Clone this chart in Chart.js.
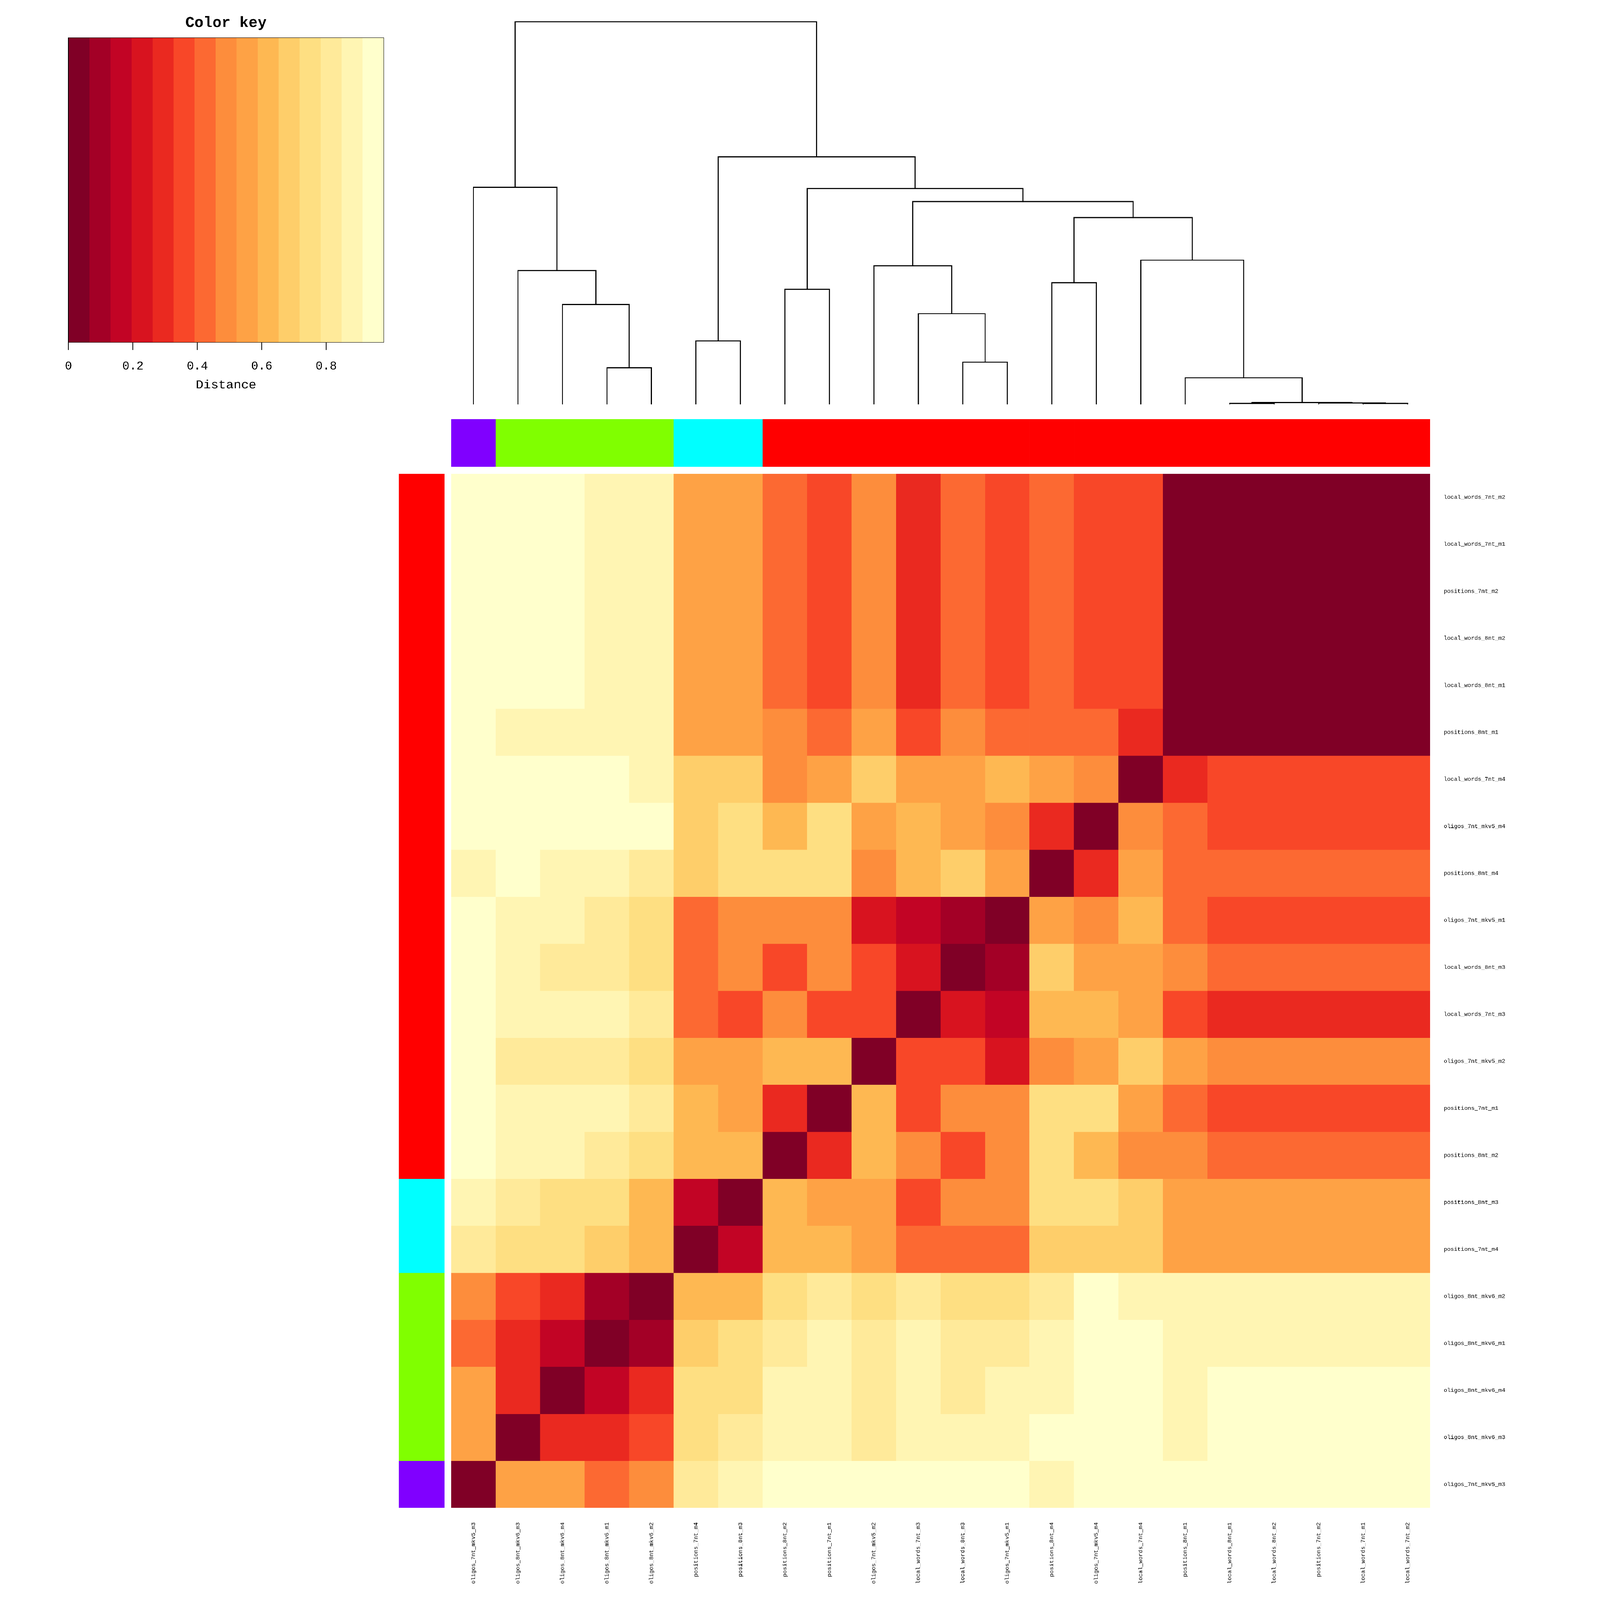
<!DOCTYPE html>
<html>
<head>
<meta charset="utf-8">
<script src="https://cdn.jsdelivr.net/npm/chart.js@4.4.1/dist/chart.umd.min.js"></script>
<style>
  html, body { margin: 0; padding: 0; background: #fff; overflow: hidden; }
  #page { position: absolute; left: 0; top: 0; width: 7500px; height: 7875px; background: #fff; transform-origin: 0 0; }
  canvas { position: absolute; }
</style>
</head>
<body>
<div id="page">
<canvas id="keyChart"></canvas>
<canvas id="treeChart"></canvas>
<canvas id="colBarChart"></canvas>
<canvas id="rowBarChart"></canvas>
<canvas id="heatChart"></canvas>
</div>
<script>
'use strict';

// column order (left to right), same as the dendrogram leaves
const colNames = ['oligos_7nt_mkv5_m3', 'oligos_8nt_mkv6_m3', 'oligos_8nt_mkv6_m4', 'oligos_8nt_mkv6_m1',
  'oligos_8nt_mkv6_m2', 'positions_7nt_m4', 'positions_8nt_m3', 'positions_8nt_m2', 'positions_7nt_m1',
  'oligos_7nt_mkv5_m2', 'local_words_7nt_m3', 'local_words_8nt_m3', 'oligos_7nt_mkv5_m1', 'positions_8nt_m4',
  'oligos_7nt_mkv5_m4', 'local_words_7nt_m4', 'positions_8nt_m1', 'local_words_8nt_m1', 'local_words_8nt_m2',
  'positions_7nt_m2', 'local_words_7nt_m1', 'local_words_7nt_m2'];

// row order (top to bottom)
const rowNames = ['local_words_7nt_m2', 'local_words_7nt_m1', 'positions_7nt_m2', 'local_words_8nt_m2',
  'local_words_8nt_m1', 'positions_8nt_m1', 'local_words_7nt_m4', 'oligos_7nt_mkv5_m4', 'positions_8nt_m4',
  'oligos_7nt_mkv5_m1', 'local_words_8nt_m3', 'local_words_7nt_m3', 'oligos_7nt_mkv5_m2', 'positions_7nt_m1',
  'positions_8nt_m2', 'positions_8nt_m3', 'positions_7nt_m4', 'oligos_8nt_mkv6_m2', 'oligos_8nt_mkv6_m1',
  'oligos_8nt_mkv6_m4', 'oligos_8nt_mkv6_m3', 'oligos_7nt_mkv5_m3'];

const colGroup = ['purple', 'green', 'green', 'green', 'green', 'cyan', 'cyan', 'red', 'red', 'red', 'red',
  'red', 'red', 'red', 'red', 'red', 'red', 'red', 'red', 'red', 'red', 'red'];
const rowGroup = ['red', 'red', 'red', 'red', 'red', 'red', 'red', 'red', 'red', 'red', 'red', 'red', 'red',
  'red', 'red', 'cyan', 'cyan', 'green', 'green', 'green', 'green', 'purple'];

// distances, one row per rowNames entry, columns in colNames order
const distRows = [
  [.94, .94, .94, .88, .88, .55, .55, .42, .36, .49, .29, .42, .36, .42, .36, .36, .05, 0, 0, 0, 0, 0],
  [.94, .94, .94, .88, .88, .55, .55, .42, .36, .49, .29, .42, .36, .42, .36, .36, .05, 0, 0, 0, 0, 0],
  [.94, .94, .94, .88, .88, .55, .55, .42, .36, .49, .29, .42, .36, .42, .36, .36, .05, 0, 0, 0, 0, 0],
  [.94, .94, .94, .88, .88, .55, .55, .42, .36, .49, .29, .42, .36, .42, .36, .36, .05, 0, 0, 0, 0, 0],
  [.94, .94, .94, .88, .88, .55, .55, .42, .36, .49, .29, .42, .36, .42, .36, .36, .05, 0, 0, 0, 0, 0],
  [.94, .88, .88, .88, .88, .55, .55, .49, .42, .55, .36, .49, .42, .42, .42, .29, 0, .05, .05, .05, .05, .05],
  [.94, .94, .94, .94, .88, .68, .68, .49, .55, .68, .55, .55, .62, .55, .49, 0, .29, .36, .36, .36, .36, .36],
  [.94, .94, .94, .94, .94, .68, .75, .62, .75, .55, .62, .55, .49, .29, 0, .49, .42, .36, .36, .36, .36, .36],
  [.88, .94, .88, .88, .82, .68, .75, .75, .75, .49, .62, .68, .55, 0, .29, .55, .42, .42, .42, .42, .42, .42],
  [.94, .88, .88, .82, .75, .42, .49, .49, .49, .23, .16, .10, 0, .55, .49, .62, .42, .36, .36, .36, .36, .36],
  [.94, .88, .82, .82, .75, .42, .49, .36, .49, .36, .23, 0, .10, .68, .55, .55, .49, .42, .42, .42, .42, .42],
  [.94, .88, .88, .88, .82, .42, .36, .49, .36, .36, 0, .23, .16, .62, .62, .55, .36, .29, .29, .29, .29, .29],
  [.94, .82, .82, .82, .75, .55, .55, .62, .62, 0, .36, .36, .23, .49, .55, .68, .55, .49, .49, .49, .49, .49],
  [.94, .88, .88, .88, .82, .62, .55, .29, 0, .62, .36, .49, .49, .75, .75, .55, .42, .36, .36, .36, .36, .36],
  [.94, .88, .88, .82, .75, .62, .62, 0, .29, .62, .49, .36, .49, .75, .62, .49, .49, .42, .42, .42, .42, .42],
  [.88, .82, .75, .75, .62, .16, 0, .62, .55, .55, .36, .49, .49, .75, .75, .68, .55, .55, .55, .55, .55, .55],
  [.82, .75, .75, .68, .62, 0, .16, .62, .62, .55, .42, .42, .42, .68, .68, .68, .55, .55, .55, .55, .55, .55],
  [.49, .36, .29, .10, 0, .62, .62, .75, .82, .75, .82, .75, .75, .82, .94, .88, .88, .88, .88, .88, .88, .88],
  [.42, .29, .16, 0, .10, .68, .75, .82, .88, .82, .88, .82, .82, .88, .94, .94, .88, .88, .88, .88, .88, .88],
  [.55, .29, 0, .16, .29, .75, .75, .88, .88, .82, .88, .82, .88, .88, .94, .94, .88, .94, .94, .94, .94, .94],
  [.55, 0, .29, .29, .36, .75, .82, .88, .88, .82, .88, .88, .88, .94, .94, .94, .88, .94, .94, .94, .94, .94],
  [0, .55, .55, .42, .49, .82, .88, .94, .94, .94, .94, .94, .94, .88, .94, .94, .94, .94, .94, .94, .94, .94]
];

// colour key
const keyBreaks = [0, 0.0652, 0.1304, 0.1956, 0.2608, 0.326, 0.3912, 0.4564, 0.5216, 0.5868, 0.652,
  0.7172, 0.7824, 0.8476, 0.9128, 0.978];
const keyColors = ['#800026', '#A30026', '#C20425', '#D8131F', '#EA2920', '#F84728', '#FC6932', '#FD8D3C',
  '#FEA245', '#FEB852', '#FECE6A', '#FEDF82', '#FFEA9A', '#FFF5B3', '#FFFFCC'];
const keyTicks = [0, 0.2, 0.4, 0.6, 0.8];

// column dendrogram: numbers are leaf positions, 'nK' is the K-th merge
const mergeLeft = [17, 20, 19, 'n1', 16, 3, 11, 5, 10, 2, 7, 13, 1, 9, 15, 'n12', 'n14', 'n11', 0, 'n8', 'n19'];
const mergeRight = [18, 21, 'n2', 'n3', 'n4', 4, 12, 6, 'n7', 'n6', 8, 14, 'n10', 'n9', 'n5', 'n15', 'n16',
  'n17', 'n13', 'n18', 'n20'];
const mergeHeight = [0.001, 0.001, 0.002, 0.003, 0.060, 0.083, 0.096, 0.145, 0.208, 0.229, 0.264, 0.279,
  0.307, 0.318, 0.331, 0.429, 0.466, 0.496, 0.499, 0.569, 0.880];

const groupColor = { red: '#FF0000', green: '#80FF00', cyan: '#00FFFF', purple: '#8000FF' };

// the whole figure is laid out on a 7500 x 7875 sheet, scaled to the window
const pageW = 7500;
const pageH = 7875;
let fit = Math.min(window.innerWidth / pageW, window.innerHeight / pageH);
document.getElementById('page').style.transform = 'scale(' + fit + ')';

Chart.defaults.font.family = "'Liberation Mono', 'DejaVu Sans Mono', monospace";
Chart.defaults.color = '#000';

function place(id, left, top, w, h){
  let c = document.getElementById(id);
  c.width = w;
  c.height = h;
  c.style.left = left + 'px';
  c.style.top = top + 'px';
  c.style.width = w + 'px';
  c.style.height = h + 'px';
  return c;
}

function cellColor(v){
  for (let k = 0; k < keyColors.length; k++) {
    if (v <= keyBreaks[k + 1]) {
      return keyColors[k];
    }
  }
  return keyColors[keyColors.length - 1];
}

const baseOptions = {
  responsive: false,
  devicePixelRatio: 1,
  animation: false,
  events: [],
  plugins: { legend: { display: false }, tooltip: { enabled: false } }
};

// ---- colour key ----
let keyDatasets = keyColors.map((col, k) => ({
  data: [[keyBreaks[k], keyBreaks[k + 1]]],
  backgroundColor: col,
  borderWidth: 0,
  grouped: false,
  barPercentage: 1,
  categoryPercentage: 1
}));

new Chart(place('keyChart', 237, 0, 1751, 2000), {
  type: 'bar',
  data: { labels: [''], datasets: keyDatasets },
  options: Object.assign({}, baseOptions, {
    indexAxis: 'y',
    layout: { padding: { left: 100, right: 100, top: 0, bottom: 0 } },
    plugins: {
      legend: { display: false },
      tooltip: { enabled: false },
      title: {
        display: true,
        text: 'Color key',
        color: '#000',
        font: { size: 74, weight: 'bold' },
        padding: { top: 70, bottom: 28 }
      }
    },
    scales: {
      x: {
        type: 'linear',
        position: 'bottom',
        min: 0,
        max: keyBreaks[keyBreaks.length - 1],
        afterBuildTicks: (s) => { s.ticks = keyTicks.map(v => ({ value: v })); },
        afterFit: (s) => { s.height = 315; s.paddingLeft = 0; s.paddingRight = 0; },
        ticks: {
          autoSkip: false,
          maxRotation: 0,
          padding: 46,
          font: { size: 58 },
          color: '#000',
          callback: (v) => (v === 0 ? '0' : v.toFixed(1))
        },
        grid: { display: true, drawOnChartArea: false, drawTicks: true, tickLength: 37, color: '#000', lineWidth: 4 },
        border: { display: true, color: '#000', width: 4 },
        title: { display: true, text: 'Distance', color: '#000', font: { size: 62 }, padding: { top: 0, bottom: 67 } }
      },
      xTop: {
        type: 'linear',
        position: 'top',
        min: 0,
        max: keyBreaks[keyBreaks.length - 1],
        afterFit: (s) => { s.height = 0; s.paddingLeft = 0; s.paddingRight = 0; },
        ticks: { display: false },
        grid: { display: false, drawTicks: false },
        border: { display: true, color: '#000', width: 4 }
      },
      y: {
        position: 'left',
        afterFit: (s) => { s.width = 0; s.paddingTop = 0; s.paddingBottom = 0; },
        ticks: { display: false },
        grid: { display: false, drawTicks: false },
        border: { display: true, color: '#000', width: 4 }
      },
      yRight: {
        type: 'linear',
        position: 'right',
        min: 0,
        max: 1,
        afterFit: (s) => { s.width = 0; s.paddingTop = 0; s.paddingBottom = 0; },
        ticks: { display: false },
        grid: { display: false, drawTicks: false },
        border: { display: true, color: '#000', width: 4 }
      }
    }
  })
});

// ---- column dendrogram ----
let nodeX = [];
function nodePos(ref){
  if (typeof ref === 'number') {
    return { x: ref, y: 0 };
  }
  let idx = parseInt(ref.slice(1), 10) - 1;
  return { x: nodeX[idx], y: mergeHeight[idx] };
}
let treeDatasets = [];
for (let i = 0; i < mergeHeight.length; i++) {
  let a = nodePos(mergeLeft[i]);
  let b = nodePos(mergeRight[i]);
  let h = mergeHeight[i];
  nodeX.push((a.x + b.x) / 2);
  treeDatasets.push({
    data: [{ x: a.x, y: a.y }, { x: a.x, y: h }, { x: b.x, y: h }, { x: b.x, y: b.y }],
    showLine: true,
    borderColor: '#000',
    borderWidth: 5,
    borderCapStyle: 'round',
    borderJoinStyle: 'miter',
    pointRadius: 0,
    fill: false,
    clip: false
  });
}

new Chart(place('treeChart', 2201, 87, 4857, 1921), {
  type: 'scatter',
  data: { datasets: treeDatasets },
  options: Object.assign({}, baseOptions, {
    layout: { padding: 20 },
    scales: {
      x: { type: 'linear', min: -0.5, max: colNames.length - 0.5, display: false },
      y: { type: 'linear', min: 0, max: mergeHeight[mergeHeight.length - 1], display: false }
    }
  })
});

// ---- side colour bars ----
new Chart(place('colBarChart', 2221, 2062, 4817, 236), {
  type: 'bar',
  data: {
    labels: colNames,
    datasets: [{
      data: colNames.map(() => 1),
      backgroundColor: colGroup.map(g => groupColor[g]),
      borderWidth: 0,
      barPercentage: 1,
      categoryPercentage: 1
    }]
  },
  options: Object.assign({}, baseOptions, {
    layout: { padding: 0 },
    scales: {
      x: { display: false },
      y: { display: false, min: 0, max: 1 }
    }
  })
});

new Chart(place('rowBarChart', 1963, 2332, 225, 5090), {
  type: 'bar',
  data: {
    labels: rowNames,
    datasets: [{
      data: rowNames.map(() => 1),
      backgroundColor: rowGroup.map(g => groupColor[g]),
      borderWidth: 0,
      barPercentage: 1,
      categoryPercentage: 1
    }]
  },
  options: Object.assign({}, baseOptions, {
    indexAxis: 'y',
    layout: { padding: 0 },
    scales: {
      x: { display: false, min: 0, max: 1 },
      y: { display: false }
    }
  })
});

// ---- heatmap: one stacked dataset per row, bottom row first ----
let heatDatasets = [];
for (let s = 0; s < rowNames.length; s++) {
  let r = rowNames.length - 1 - s;
  heatDatasets.push({
    label: rowNames[r],
    data: colNames.map(() => 1),
    backgroundColor: distRows[r].map(cellColor),
    borderWidth: 0,
    barPercentage: 1,
    categoryPercentage: 1
  });
}

new Chart(place('heatChart', 2221, 2332, pageW - 2221, pageH - 2332), {
  type: 'bar',
  data: { labels: colNames, datasets: heatDatasets },
  options: Object.assign({}, baseOptions, {
    layout: { padding: 0 },
    scales: {
      x: {
        stacked: true,
        position: 'bottom',
        afterFit: (s) => { s.height = 453; s.paddingLeft = 0; s.paddingRight = 0; },
        ticks: { autoSkip: false, minRotation: 90, maxRotation: 90, padding: 71, font: { size: 28 }, color: '#000' },
        grid: { display: false, drawTicks: false },
        border: { display: false }
      },
      y: {
        type: 'linear',
        stacked: true,
        position: 'right',
        min: 0,
        max: rowNames.length,
        afterBuildTicks: (s) => { s.ticks = rowNames.map((n, r) => ({ value: rowNames.length - 1 - r + 0.5 })); },
        afterFit: (s) => { s.width = 462; s.paddingTop = 0; s.paddingBottom = 0; },
        ticks: {
          autoSkip: false,
          padding: 68,
          font: { size: 28 },
          color: '#000',
          callback: (v) => rowNames[rowNames.length - 1 - Math.floor(v)]
        },
        grid: { display: false, drawTicks: false },
        border: { display: false }
      }
    }
  })
});
</script>
</body>
</html>
